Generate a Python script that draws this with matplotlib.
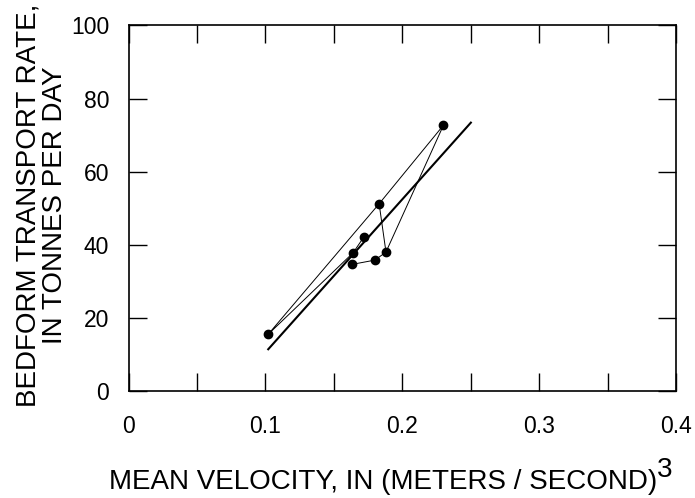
import matplotlib
matplotlib.use('Agg')
import matplotlib.pyplot as plt
from matplotlib.ticker import MultipleLocator

plt.rcParams['font.family'] = ['Liberation Sans', 'DejaVu Sans']

# measurements, in the order they are joined by the thin line
velocity = [0.172, 0.164, 0.102, 0.183, 0.230, 0.188, 0.180, 0.163]
transport = [42.2, 37.8, 15.5, 51.2, 72.7, 38.0, 35.8, 34.6]
# extra segment between the 51 and 38 points
extra_seg = [3, 5]

# fitted line end points
fit_x = [0.102, 0.250]
fit_y = [11.4, 73.4]

x_ticks = [0, 0.1, 0.2, 0.3, 0.4]
x_ticklabels = ['0', '0.1', '0.2', '0.3', '0.4']
y_ticks = [0, 20, 40, 60, 80, 100]


def main():
    fig = plt.figure(figsize=(6.95, 4.98), dpi=100)
    ax = fig.add_axes([0.185, 0.215, 0.788, 0.734])

    ax.plot(velocity, transport, color='black', lw=0.7, zorder=2)
    ax.plot([velocity[i] for i in extra_seg], [transport[i] for i in extra_seg],
            color='black', lw=0.7, zorder=2)
    ax.plot(velocity, transport, 'o', color='black', ms=6, zorder=3)
    ax.plot(fit_x, fit_y, color='black', lw=1.5, zorder=2)

    ax.set_xlim(0, 0.4)
    ax.set_ylim(0, 100)
    ax.set_xticks(x_ticks)
    ax.set_xticklabels(x_ticklabels)
    ax.xaxis.set_minor_locator(MultipleLocator(0.05))
    ax.set_yticks(y_ticks)

    ax.tick_params(which='both', direction='in', top=True, right=True,
                   length=13, width=1.0, labelsize=16.5)
    ax.tick_params(axis='x', which='both', pad=17)
    ax.tick_params(axis='y', which='both', pad=14)
    for s in ax.spines.values():
        s.set_linewidth(1.2)

    ax.set_xlabel('MEAN VELOCITY, IN (METERS / SECOND)', fontsize=20)
    ax.xaxis.set_label_coords(0.464, -0.213)
    ax.annotate('3', xy=(1, 1), xycoords=ax.xaxis.label, xytext=(0, -10),
                textcoords='offset points', fontsize=20, ha='left', va='bottom')

    ax.set_ylabel('BEDFORM TRANSPORT RATE,\nIN TONNES PER DAY', fontsize=20,
                  linespacing=1.05)
    ax.yaxis.set_label_coords(-0.11, 0.508)

    fig.savefig('out.png', dpi=100)


if __name__ == "__main__":
    main()
